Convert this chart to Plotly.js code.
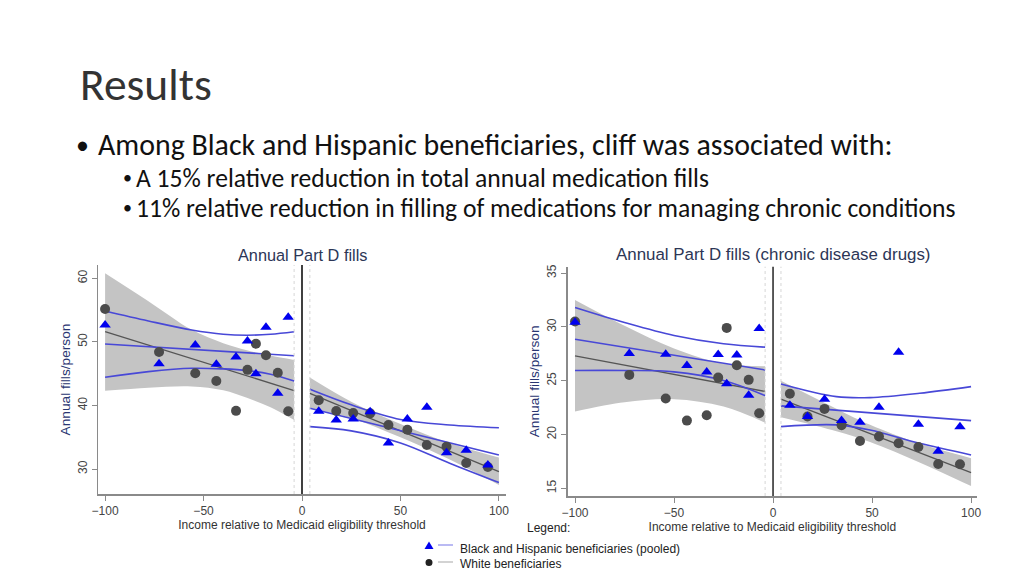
<!DOCTYPE html>
<html><head><meta charset="utf-8">
<script src="https://cdn.plot.ly/plotly-3.0.1.min.js"></script>
<style>html,body{margin:0;padding:0;background:#fff;}#chart{width:1024px;height:576px;}</style>
</head><body><div id="chart"></div>
<script>
// ---- binned points (income relative to threshold) ----
const binX = [-100,-72.6,-54.2,-43.5,-33.5,-27.7,-23.4,-18.3,-12.3,-7.0,8.5,17.4,26.0,34.6,43.9,53.5,63.4,73.4,83.4,94.4];
// Chart 1: Annual Part D fills
const white1 = [55.18,48.4,45.06,43.85,39.15,45.6,49.7,47.9,45.16,39.1,40.81,39.13,38.81,38.76,36.93,36.19,33.78,33.52,30.95,30.32];
const bh1    = [52.66,46.58,49.5,46.47,47.62,50.14,45.0,52.3,41.92,53.87,39.08,37.71,37.87,39.02,34.1,37.87,39.71,32.57,32.94,30.63];
// Chart 2: Annual Part D fills (chronic disease drugs)
const white2 = [30.5,25.54,23.34,21.29,21.79,25.29,29.91,26.44,25.08,21.98,23.78,21.67,22.38,20.86,19.40,19.81,19.19,18.84,17.26,17.23];
const bh2    = [30.44,27.53,27.47,26.41,25.82,27.43,24.71,27.40,23.65,29.85,22.72,21.67,23.28,21.29,21.14,22.53,27.65,20.95,18.44,20.71];

// ---- fitted lines and confidence bands ----
const fx1L = [-100,-78,-56,-40,-28,-16,-4];
const bhHi1L = [54.86,53.29,51.87,51.2,51.05,51.2,51.6];
const bhLo1L = [44.43,45.32,45.85,45.75,45.5,44.9,43.85];
const whHi1L = [60.8,56.4,51.9,49.8,48.7,47.85,47.15];
const whLo1L = [42.3,42.8,43.0,42.4,41.2,39.7,37.7];
const ends1L = [-100,-4];
const bhMid1L = [49.67,47.83];
const whMid1L = [51.6,42.35];

const fx1R = [4,25,50,75,100];
const bhHi1R = [42.55,40.1,37.8,36.93,36.5];
const bhLo1R = [36.67,36.0,34.1,30.91,27.86];
const whHi1R = [44.4,40.6,37.1,34.1,31.8];
const whLo1R = [39.6,38.0,35.0,31.5,27.5];
const ends1R = [4,100];
const bhMid1R = [39.56,32.22];
const whMid1R = [41.9,29.6];

const fx2L = [-100,-75,-50,-25,-4];
const bhHi2L = [31.81,30.41,29.2,28.43,28.12];
const bhLo2L = [25.95,25.95,25.82,25.02,23.62];
const whHi2L = [32.5,30.1,28.0,26.6,26.35];
const whLo2L = [22.13,23.0,23.28,22.6,21.1];
const ends2L = [-100,-4];
const bhMid2L = [28.86,26.0];
const whMid2L = [27.31,24.0];

const fx2R = [4,32,49,74,100];
const bhHi2R = [24.7,23.52,23.43,23.83,24.45];
const bhLo2R = [20.73,20.89,20.42,19.18,18.1];
const whHi2R = [25.0,22.4,20.9,19.15,17.8];
const whLo2R = [21.6,20.3,19.3,17.4,15.2];
const ends2R = [4,100];
const bhMid2R = [22.66,21.29];
const whMid2R = [23.28,16.45];

// ---- text ----
const slideTitle = 'Results';
const bullet1 = 'Among Black and Hispanic beneficiaries, cliff was associated with:';
const sub1 = 'A 15% relative reduction in total annual medication fills';
const sub2 = '11% relative reduction in filling of medications for managing chronic conditions';
const chartTitle1 = 'Annual Part D fills';
const chartTitle2 = 'Annual Part D fills (chronic disease drugs)';
const yTitle = 'Annual fills/person';
const xTitle = 'Income relative to Medicaid eligibility threshold';
const legendHead = 'Legend:';
const legendBH = 'Black and Hispanic beneficiaries (pooled)';
const legendW = 'White beneficiaries';
const xTicks = [-100,-50,0,50,100];
const yTicks1 = [30,40,50,60];
const yTicks2 = [15,20,25,30,35];

const BAND = 'rgb(196,196,196)';
const BLUE_LINE = 'rgb(72,72,215)';
const GRAY_LINE = 'rgb(85,85,85)';
const CIRCLE = 'rgb(75,75,75)';
const TRI = 'rgb(0,0,238)';

const traces = [];
function band(xs, lo, hi, xa, ya){
  traces.push({x:xs, y:lo, mode:'lines', line:{width:0, shape:'spline'}, xaxis:xa, yaxis:ya, hoverinfo:'skip', showlegend:false});
  traces.push({x:xs, y:hi, mode:'lines', line:{width:0, shape:'spline'}, fill:'tonexty', fillcolor:BAND, xaxis:xa, yaxis:ya, hoverinfo:'skip', showlegend:false});
}
function line(xs, ys, color, w, xa, ya){
  traces.push({x:xs, y:ys, mode:'lines', line:{color:color, width:w, shape:'spline'}, xaxis:xa, yaxis:ya, hoverinfo:'skip', showlegend:false});
}
function pts(xs, ys, sym, color, xa, ya, name){
  traces.push({x:xs, y:ys, mode:'markers', name:name, marker:{symbol:sym, color:color, size:10, line:{width:0}}, xaxis:xa, yaxis:ya, showlegend:false});
}
// chart 1
band(fx1L, whLo1L, whHi1L, 'x', 'y');
band(fx1R, whLo1R, whHi1R, 'x', 'y');
line(ends1L, whMid1L, GRAY_LINE, 1.3, 'x', 'y');
line(ends1R, whMid1R, GRAY_LINE, 1.3, 'x', 'y');
[[fx1L,bhHi1L],[fx1L,bhLo1L],[ends1L,bhMid1L],[fx1R,bhHi1R],[fx1R,bhLo1R],[ends1R,bhMid1R]].forEach(p=>line(p[0],p[1],BLUE_LINE,1.6,'x','y'));
pts(binX, white1, 'circle', CIRCLE, 'x', 'y', legendW);
pts(binX, bh1, 'triangle-up', TRI, 'x', 'y', legendBH);
// chart 2
band(fx2L, whLo2L, whHi2L, 'x2', 'y2');
band(fx2R, whLo2R, whHi2R, 'x2', 'y2');
line(ends2L, whMid2L, GRAY_LINE, 1.3, 'x2', 'y2');
line(ends2R, whMid2R, GRAY_LINE, 1.3, 'x2', 'y2');
[[fx2L,bhHi2L],[fx2L,bhLo2L],[ends2L,bhMid2L],[fx2R,bhHi2R],[fx2R,bhLo2R],[ends2R,bhMid2R]].forEach(p=>line(p[0],p[1],BLUE_LINE,1.6,'x2','y2'));
pts(binX, white2, 'circle', CIRCLE, 'x2', 'y2', legendW);
pts(binX, bh2, 'triangle-up', TRI, 'x2', 'y2', legendBH);

const CF = 'Arial, "Liberation Sans", sans-serif';
const SF = 'Carlito, Lato, "Open Sans", sans-serif';
const W = 1024, H = 576;
const px = v => v / W, py = v => 1 - v / H;

function xax(dom, rng, anchor){
  return {domain:dom, range:rng, anchor:anchor, tickvals:xTicks, ticks:'outside', ticklen:5, tickwidth:1, tickcolor:'#8a8a8a',
    showline:true, linecolor:'#8a8a8a', linewidth:1.5, showgrid:false, zeroline:false,
    tickfont:{family:CF, size:12, color:'#444'},
    title:{text:xTitle, font:{family:CF, size:12, color:'#333'}, standoff:0}};
}
function yax(dom, rng, anchor, tv){
  return {domain:dom, range:rng, anchor:anchor, tickvals:tv, tickangle:-90, ticks:'outside', ticklen:5, tickwidth:1, tickcolor:'#8a8a8a',
    showline:true, linecolor:'#8a8a8a', linewidth:1.5, showgrid:false, zeroline:false,
    tickfont:{family:CF, size:12, color:'#444'},
    title:{text:yTitle, font:{family:CF, size:13.7, color:'#2a3672'}, standoff:2}};
}

function vlines(xa, ya, col){
  return [
    {type:'line', xref:xa, yref:ya+' domain', x0:0, x1:0, y0:0, y1:1, line:{color:col, width:1.6}},
    {type:'line', xref:xa, yref:ya+' domain', x0:-4, x1:-4, y0:0, y1:1, line:{color:'#d6d6d6', width:1, dash:'dot'}},
    {type:'line', xref:xa, yref:ya+' domain', x0:4, x1:4, y0:0, y1:1, line:{color:'#d6d6d6', width:1, dash:'dot'}}
  ];
}

const shapes = [].concat(vlines('x','y','#111'), vlines('x2','y2','#333'), [
  {type:'path', xref:'paper', yref:'paper', xsizemode:'pixel', ysizemode:'pixel', xanchor:px(429), yanchor:py(545.5),
   path:'M -4.5 -3.5 L 4.5 -3.5 L 0 4 Z', fillcolor:TRI, line:{width:0}},
  {type:'line', xref:'paper', yref:'paper', x0:px(438), x1:px(453), y0:py(545), y1:py(545), line:{color:'rgb(140,140,235)', width:1.2}},
  {type:'circle', xref:'paper', yref:'paper', xsizemode:'pixel', ysizemode:'pixel', xanchor:px(429), yanchor:py(562.5),
   x0:-3.5, x1:3.5, y0:-3.5, y1:3.5, fillcolor:'#222', line:{width:0}},
  {type:'line', xref:'paper', yref:'paper', x0:px(438), x1:px(453), y0:py(562), y1:py(562), line:{color:'#b5b5b5', width:1.2}}
]);

function ann(text, x, y, font, xanchor){
  return {text:text, xref:'paper', yref:'paper', x:px(x), y:py(y), xanchor:xanchor||'left', yanchor:'middle', showarrow:false, font:font};
}
const annotations = [
  ann(slideTitle, 78, 85, {family:SF, size:45.5, color:'#333', weight:300}),
  ann('•', 82, 145, {family:SF, size:26, color:'#111'}, 'center'),
  ann(bullet1, 96, 145, {family:SF, size:29.9, color:'#111'}),
  ann('•', 127, 178, {family:SF, size:18, color:'#111'}, 'center'),
  ann(sub1, 134, 178, {family:SF, size:25.6, color:'#111'}),
  ann('•', 127, 208, {family:SF, size:18, color:'#111'}, 'center'),
  ann(sub2, 134, 208, {family:SF, size:25.6, color:'#111'}),
  ann(chartTitle1, 302, 255, {family:CF, size:16.3, color:'#2c3656'}, 'center'),
  ann(chartTitle2, 773, 255, {family:CF, size:16.9, color:'#2c3656'}, 'center'),
  ann(legendHead, 548, 528, {family:CF, size:12, color:'#222'}, 'center'),
  ann(legendBH, 458, 549, {family:CF, size:12, color:'#222'}),
  ann(legendW, 458, 564, {family:CF, size:12, color:'#222'})
];

const layout = {
  width:W, height:H, margin:{l:0,r:0,t:0,b:0}, paper_bgcolor:'#fff', plot_bgcolor:'#fff', showlegend:false,
  xaxis: xax([px(98), px(506)], [-103.6, 103.6], 'y'),
  yaxis: yax([py(494), py(265)], [26.07, 62.1], 'x', yTicks1),
  xaxis2: xax([px(567.7), px(977)], [-103.7, 103.0], 'y2'),
  yaxis2: yax([py(496), py(266.7)], [14.28, 35.6], 'x2', yTicks2),
  shapes: shapes, annotations: annotations
};
Plotly.newPlot('chart', traces, layout, {staticPlot:true, displayModeBar:false});
</script></body></html>
